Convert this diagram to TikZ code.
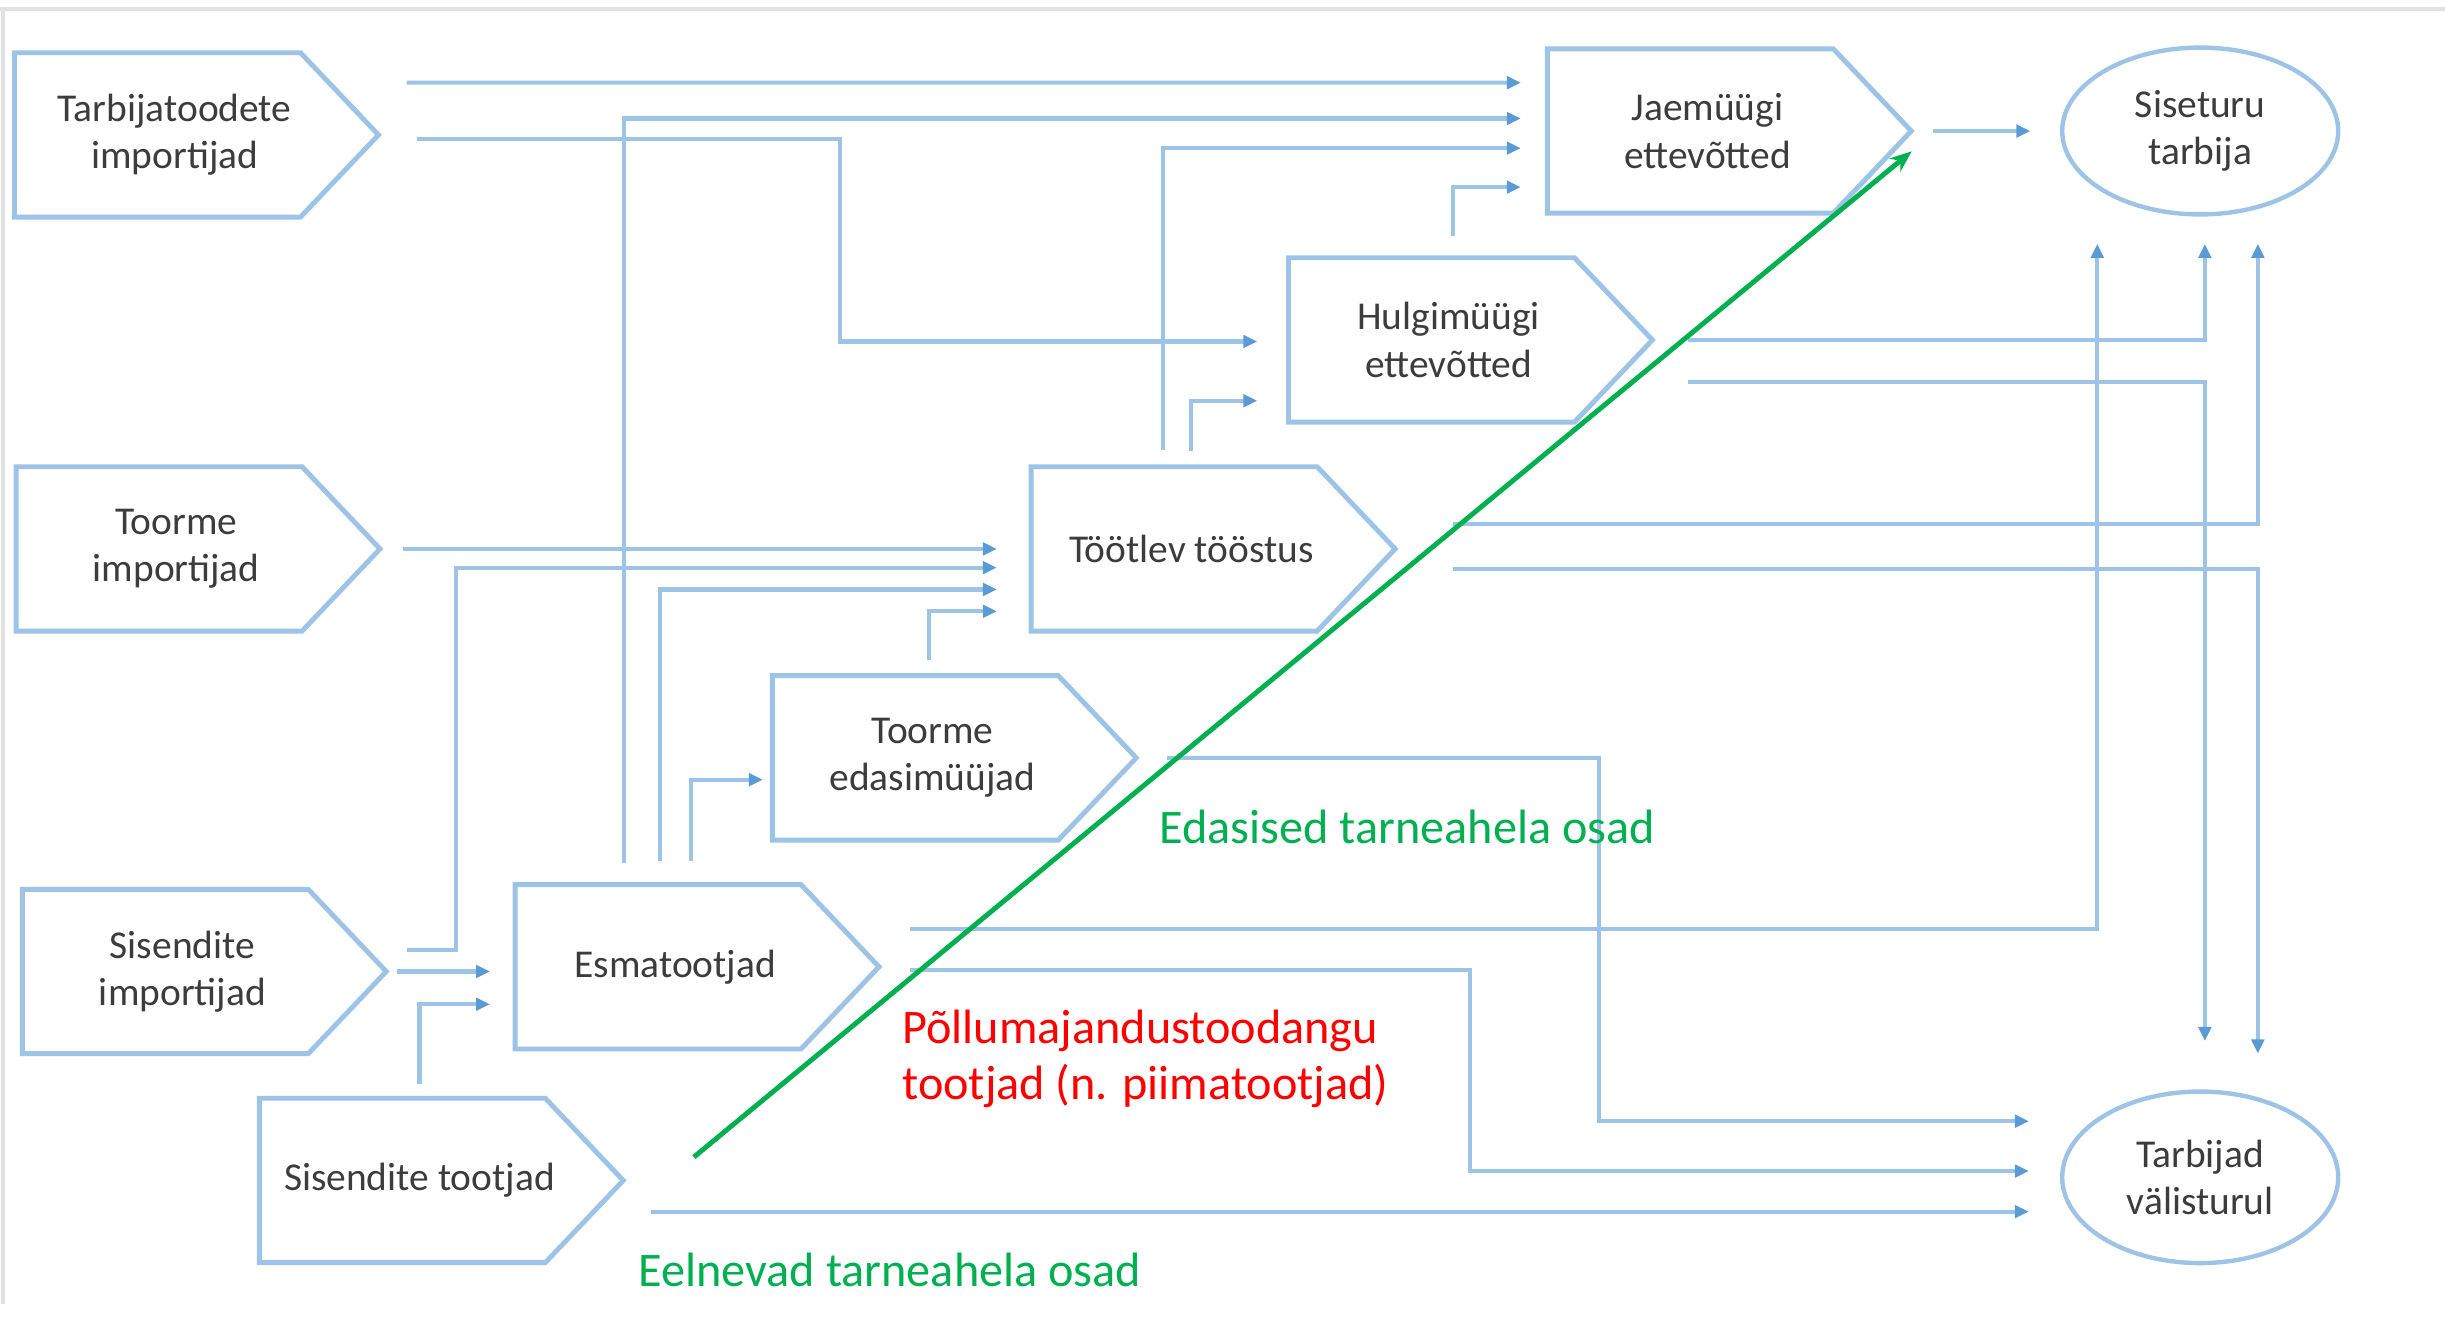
\documentclass[tikz,border=0pt]{standalone}
\usepackage{fontspec}
\setmainfont{Carlito}
\usetikzlibrary{arrows.meta,shapes.geometric}

\definecolor{boxblue}{RGB}{157,195,230}
\definecolor{tipblue}{RGB}{91,155,213}
\definecolor{boxtext}{RGB}{60,60,60}
\definecolor{chaingreen}{RGB}{0,176,80}
\definecolor{framegray}{RGB}{225,225,225}

\begin{document}
\begin{tikzpicture}[
        stage/.style = {minimum width = 2.04cm, minimum height = 1.04cm, inner sep = 0pt, align = center, text = boxtext, font = \fontsize{7.2}{8.6}\selectfont},
        stageline/.style = {draw = boxblue, line width = 0.9pt},
        market/.style = {ellipse, draw = boxblue, line width = 0.8pt, minimum width = 1.77cm, inner sep = 0pt, align = center, text = boxtext, font = \fontsize{7.2}{8.6}\selectfont},
        flow/.style = {draw = boxblue, line width = 0.75pt, -{Triangle[length = 0.9mm, width = 0.8mm, color = tipblue]}, shorten > = 1.7mm},
        divider/.style = {draw = chaingreen, line width = 0.9pt, -{Stealth[length = 1.4mm, width = 1.1mm]}},
        note/.style = {anchor = west, inner sep = 0pt, align = left, font = \fontsize{8.8}{10.2}\selectfont},
        frame/.style = {draw = framegray, line width = 0.7pt}
    ]
        \useasboundingbox (0,0) rectangle (15.68,-8.56);

        \draw [frame] (0,-0.055) -- (15.68,-0.055);
        \draw [frame] (0.02,-0.055) -- (0.02,-8.36);

        \node (ti) at (1.12, -0.865) [stage] {Tarbijatoodete\\importijad};
        \node (tri) at (1.13, -3.52) [stage] {Toorme\\importijad};
        \node (si) at (1.17, -6.23) [stage] {Sisendite\\importijad};
        \node (st) at (2.69, -7.57) [stage] {Sisendite tootjad};
        \node (es) at (4.33, -6.20) [stage] {Esmatootjad};
        \node (te) at (5.98, -4.86) [stage] {Toorme\\edasimüüjad};
        \node (tt) at (7.64, -3.52) [stage] {Töötlev tööstus};
        \node (hm) at (9.29, -2.18) [stage] {Hulgimüügi\\ettevõtted};
        \node (jm) at (10.95, -0.84) [stage] {Jaemüügi\\ettevõtted};

        \foreach \n in {ti, tri, si, st, es, te, tt, hm, jm}
            \draw [stageline] (\n.north west) -- ([xshift = -0.22cm]\n.north east) -- ([xshift = 0.28cm]\n.east) -- ([xshift = -0.22cm]\n.south east) -- (\n.south west) -- cycle;

        \node (ss) at (14.11, -0.84) [market, minimum height = 1.07cm] {Siseturu\\tarbija};
        \node (tv) at (14.11, -7.55) [market, minimum height = 1.10cm] {Tarbijad\\välisturul};

        % into Jaemüügi ettevõtted
        \draw [flow] ([shift = {(0.46,0.335)}]ti.east) -- ([yshift = 0.31cm]jm.west);
        \draw [flow] ([shift = {(-0.33,0.14)}]es.north) |- ([yshift = 0.08cm]jm.west);
        \draw [flow] ([shift = {(-0.18,0.11)}]tt.north) |- ([yshift = -0.11cm]jm.west);
        \draw [flow] ([shift = {(0.03,0.14)}]hm.north) |- ([yshift = -0.36cm]jm.west);

        % into Hulgimüügi ettevõtted
        \draw [flow, shorten > = 2mm] ([shift = {(0.53,-0.025)}]ti.east) -- ++(2.71,0) |- ([yshift = -0.01cm]hm.west);
        \draw [flow, shorten > = 2mm] ([yshift = 0.10cm]tt.north) |- ([yshift = -0.39cm]hm.west);

        % into Töötlev tööstus
        \draw [flow, shorten > = 2.2mm] ([xshift = 0.43cm]tri.east) -- (tt.west);
        \draw [flow, shorten > = 2.2mm] ([shift = {(0.41,0.14)}]si.east) -- ++(0.32,0) |- ([yshift = -0.12cm]tt.west);
        \draw [flow, shorten > = 2.2mm] ([shift = {(-0.10,0.15)}]es.north) |- ([yshift = -0.26cm]tt.west);
        \draw [flow, shorten > = 2.2mm] ([shift = {(-0.02,0.10)}]te.north) |- ([yshift = -0.40cm]tt.west);

        % into Toorme edasimüüjad and Esmatootjad
        \draw [flow, shorten > = 0.6mm] ([shift = {(0.10,0.15)}]es.north) |- ([yshift = -0.14cm]te.west);
        \draw [flow, shorten > = 1.6mm] ([xshift = 0.35cm]si.east) -- ([yshift = -0.03cm]es.west);
        \draw [flow, shorten > = 1.6mm] ([yshift = 0.09cm]st.north) |- ([yshift = -0.24cm]es.west);

        % into Siseturu tarbija
        \draw [flow, shorten > = 1.9mm] ([xshift = 0.42cm]jm.east) -- (ss.west);
        \draw [flow, shorten > = 1.75mm] ([shift = {(0.48,0.24)}]es.east) -| ([xshift = -0.66cm]ss.south);
        \draw [flow, shorten > = 1.75mm] ([xshift = 0.51cm]hm.east) -| ([xshift = 0.03cm]ss.south);
        \draw [flow, shorten > = 1.75mm] ([shift = {(0.65,0.16)}]tt.east) -| ([xshift = 0.37cm]ss.south);

        % into Tarbijad välisturul
        \draw [flow, shorten > = 3.1mm] ([shift = {(0.51,-0.27)}]hm.east) -| ([xshift = 0.03cm]tv.north);
        \draw [flow, shorten > = 2.3mm] ([shift = {(0.65,-0.13)}]tt.east) -| ([xshift = 0.37cm]tv.north);
        \draw [flow, shorten > = 2mm] ([xshift = 0.48cm]te.east) -- ++(2.77,0) |- ([yshift = 0.36cm]tv.west);
        \draw [flow, shorten > = 2mm] ([shift = {(0.48,-0.02)}]es.east) -- ++(3.59,0) |- ([yshift = 0.04cm]tv.west);
        \draw [flow, shorten > = 2mm] ([shift = {(0.46,-0.20)}]st.east) -- ([yshift = -0.22cm]tv.west);

        \coordinate (gs) at (4.45, -7.42);
        \coordinate (ge) at (12.26, -0.97);
        \draw [divider] (gs) -- (ge);

        \node (edasi) at (7.43, -5.30) [note, text = chaingreen] {Edasised tarneahela osad};
        \node (pollu) at (5.78, -6.79) [note, text = red] {Põllumajandustoodangu\\tootjad (n. piimatootjad)};
        \node (eeln) at (4.09, -8.145) [note, text = chaingreen] {Eelnevad tarneahela osad};
    \end{tikzpicture}
\end{document}
